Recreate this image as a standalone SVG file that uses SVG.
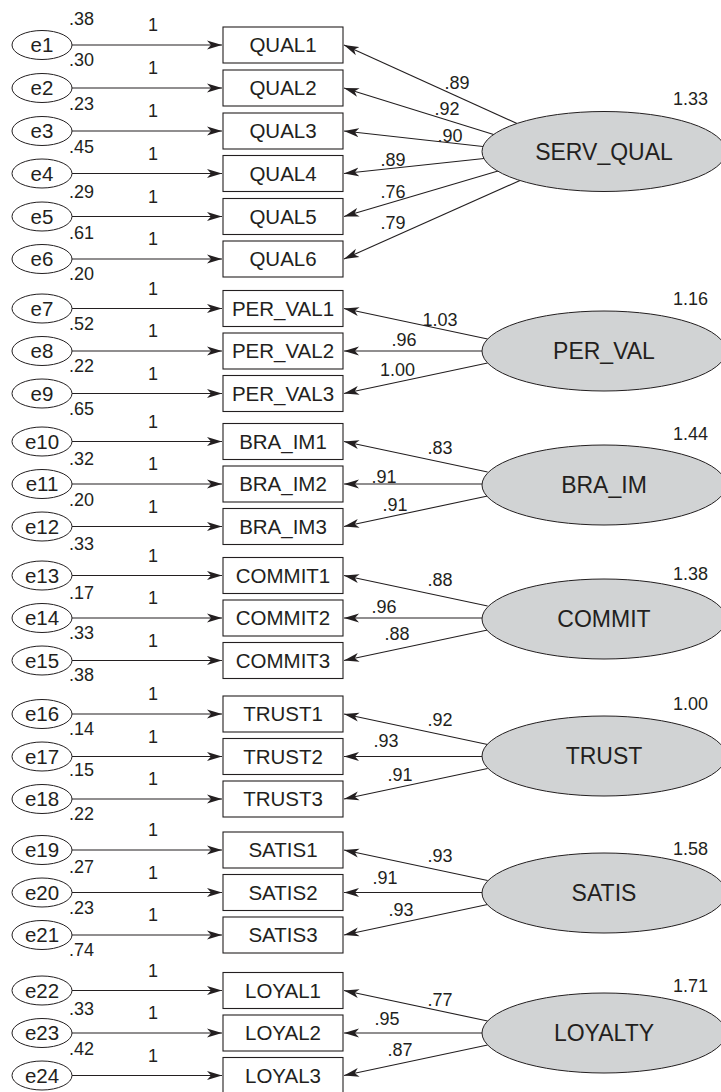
<svg xmlns="http://www.w3.org/2000/svg" width="721" height="1092" viewBox="0 0 721 1092">
<style>
text{font-family:"Liberation Sans",Arial,sans-serif;fill:#231f20}
.lab{font-size:20.5px;text-anchor:middle}
.lat{font-size:23px;text-anchor:middle}
.num{font-size:18px}
.mid{text-anchor:middle}
.end{text-anchor:end}
.err{fill:#fff;stroke:#231f20;stroke-width:1}
.box{fill:#fff;stroke:#231f20;stroke-width:1.1}
.lv{fill:#d1d3d4;stroke:#231f20;stroke-width:1}
.c line{stroke:#231f20;stroke-width:1.1;marker-end:url(#ah)}
</style>
<defs>
<marker id="ah" markerUnits="userSpaceOnUse" markerWidth="16" markerHeight="10" refX="15" refY="5" orient="auto" viewBox="0 0 16 10"><path d="M0,0.5 L15,5 L0,9.5 L4,5 Z" fill="#231f20"/></marker>
</defs>
<g id="connectors" class="c">
<line x1="72" y1="45" x2="222" y2="45"/>
<line x1="72" y1="88" x2="222" y2="88"/>
<line x1="72" y1="131" x2="222" y2="131"/>
<line x1="72" y1="173.5" x2="222" y2="173.5"/>
<line x1="72" y1="216.5" x2="222" y2="216.5"/>
<line x1="72" y1="259" x2="222" y2="259"/>
<line x1="72" y1="308.5" x2="222" y2="308.5"/>
<line x1="72" y1="351" x2="222" y2="351"/>
<line x1="72" y1="393.5" x2="222" y2="393.5"/>
<line x1="72" y1="441.5" x2="222" y2="441.5"/>
<line x1="72" y1="484" x2="222" y2="484"/>
<line x1="72" y1="526.5" x2="222" y2="526.5"/>
<line x1="72" y1="575.5" x2="222" y2="575.5"/>
<line x1="72" y1="618" x2="222" y2="618"/>
<line x1="72" y1="660.5" x2="222" y2="660.5"/>
<line x1="72" y1="714" x2="222" y2="714"/>
<line x1="72" y1="756.5" x2="222" y2="756.5"/>
<line x1="72" y1="799" x2="222" y2="799"/>
<line x1="72" y1="850" x2="222" y2="850"/>
<line x1="72" y1="892.5" x2="222" y2="892.5"/>
<line x1="72" y1="935" x2="222" y2="935"/>
<line x1="72" y1="990.5" x2="222" y2="990.5"/>
<line x1="72" y1="1033" x2="222" y2="1033"/>
<line x1="72" y1="1075.5" x2="222" y2="1075.5"/>
<line x1="517" y1="123.5" x2="344" y2="45"/>
<line x1="493.6" y1="134.5" x2="344" y2="88"/>
<line x1="483" y1="146.5" x2="344" y2="131"/>
<line x1="484" y1="158.5" x2="344" y2="173.5"/>
<line x1="498" y1="171" x2="344" y2="216.5"/>
<line x1="520" y1="180.5" x2="344" y2="259"/>
<line x1="487.6" y1="339" x2="344" y2="308.5"/>
<line x1="482" y1="351" x2="344" y2="351"/>
<line x1="487.6" y1="363" x2="344" y2="393.5"/>
<line x1="487.6" y1="472" x2="344" y2="441.5"/>
<line x1="482" y1="484" x2="344" y2="484"/>
<line x1="487.6" y1="496" x2="344" y2="526.5"/>
<line x1="487.6" y1="606" x2="344" y2="575.5"/>
<line x1="482" y1="618" x2="344" y2="618"/>
<line x1="487.6" y1="630" x2="344" y2="660.5"/>
<line x1="487.6" y1="744.5" x2="344" y2="714"/>
<line x1="482" y1="756.5" x2="344" y2="756.5"/>
<line x1="487.6" y1="768.5" x2="344" y2="799"/>
<line x1="487.6" y1="880.5" x2="344" y2="850"/>
<line x1="482" y1="892.5" x2="344" y2="892.5"/>
<line x1="487.6" y1="904.5" x2="344" y2="935"/>
<line x1="487.6" y1="1021" x2="344" y2="990.5"/>
<line x1="482" y1="1033" x2="344" y2="1033"/>
<line x1="487.6" y1="1045" x2="344" y2="1075.5"/>
</g>
<g id="path-labels" class="num">
<text class="mid" x="153" y="31">1</text>
<text class="mid" x="153" y="74">1</text>
<text class="mid" x="153" y="117">1</text>
<text class="mid" x="153" y="159.5">1</text>
<text class="mid" x="153" y="202.5">1</text>
<text class="mid" x="153" y="245">1</text>
<text class="mid" x="153" y="294.5">1</text>
<text class="mid" x="153" y="337">1</text>
<text class="mid" x="153" y="379.5">1</text>
<text class="mid" x="153" y="427.5">1</text>
<text class="mid" x="153" y="470">1</text>
<text class="mid" x="153" y="512.5">1</text>
<text class="mid" x="153" y="561.5">1</text>
<text class="mid" x="153" y="604">1</text>
<text class="mid" x="153" y="646.5">1</text>
<text class="mid" x="153" y="700">1</text>
<text class="mid" x="153" y="742.5">1</text>
<text class="mid" x="153" y="785">1</text>
<text class="mid" x="153" y="836">1</text>
<text class="mid" x="153" y="878.5">1</text>
<text class="mid" x="153" y="921">1</text>
<text class="mid" x="153" y="976.5">1</text>
<text class="mid" x="153" y="1019">1</text>
<text class="mid" x="153" y="1061.5">1</text>
<text class="mid" x="457" y="89.4">.89</text>
<text class="mid" x="447" y="115.4">.92</text>
<text class="mid" x="450" y="142.4">.90</text>
<text class="mid" x="393" y="166.4">.89</text>
<text class="mid" x="393" y="198.4">.76</text>
<text class="mid" x="393" y="229.4">.79</text>
<text class="mid" x="440" y="325.7">1.03</text>
<text class="mid" x="404" y="345.7">.96</text>
<text class="mid" x="397.5" y="375.7">1.00</text>
<text class="mid" x="440" y="453.7">.83</text>
<text class="mid" x="384" y="483.1">.91</text>
<text class="mid" x="395" y="511.4">.91</text>
<text class="mid" x="440" y="586.4">.88</text>
<text class="mid" x="384" y="613.1">.96</text>
<text class="mid" x="397" y="640.4">.88</text>
<text class="mid" x="440" y="725.7">.92</text>
<text class="mid" x="386" y="747.1">.93</text>
<text class="mid" x="400" y="781.4">.91</text>
<text class="mid" x="440" y="862.4">.93</text>
<text class="mid" x="385" y="884.1">.91</text>
<text class="mid" x="401" y="916.4">.93</text>
<text class="mid" x="440" y="1006.4">.77</text>
<text class="mid" x="387" y="1024.7">.95</text>
<text class="mid" x="400" y="1055.7">.87</text>
</g>
<g id="e1"><ellipse class="err" cx="42" cy="45" rx="30" ry="14.5"/><text class="lab" x="42" y="52.3">e1</text><text class="num" x="69" y="24.7">.38</text></g>
<g id="e2"><ellipse class="err" cx="42" cy="88" rx="30" ry="14.5"/><text class="lab" x="42" y="95.3">e2</text><text class="num" x="69" y="66.4">.30</text></g>
<g id="e3"><ellipse class="err" cx="42" cy="131" rx="30" ry="14.5"/><text class="lab" x="42" y="138.3">e3</text><text class="num" x="69" y="109.7">.23</text></g>
<g id="e4"><ellipse class="err" cx="42" cy="173.5" rx="30" ry="14.5"/><text class="lab" x="42" y="180.8">e4</text><text class="num" x="69" y="153.4">.45</text></g>
<g id="e5"><ellipse class="err" cx="42" cy="216.5" rx="30" ry="14.5"/><text class="lab" x="42" y="223.8">e5</text><text class="num" x="69" y="198.1">.29</text></g>
<g id="e6"><ellipse class="err" cx="42" cy="259" rx="30" ry="14.5"/><text class="lab" x="42" y="266.3">e6</text><text class="num" x="69" y="239.1">.61</text></g>
<g id="e7"><ellipse class="err" cx="42" cy="308.5" rx="30" ry="14.5"/><text class="lab" x="42" y="315.8">e7</text><text class="num" x="69" y="279.7">.20</text></g>
<g id="e8"><ellipse class="err" cx="42" cy="351" rx="30" ry="14.5"/><text class="lab" x="42" y="358.3">e8</text><text class="num" x="69" y="329.7">.52</text></g>
<g id="e9"><ellipse class="err" cx="42" cy="393.5" rx="30" ry="14.5"/><text class="lab" x="42" y="400.8">e9</text><text class="num" x="69" y="372.4">.22</text></g>
<g id="e10"><ellipse class="err" cx="42" cy="441.5" rx="30" ry="14.5"/><text class="lab" x="42" y="448.8">e10</text><text class="num" x="69" y="415.4">.65</text></g>
<g id="e11"><ellipse class="err" cx="42" cy="484" rx="30" ry="14.5"/><text class="lab" x="42" y="491.3">e11</text><text class="num" x="69" y="464.7">.32</text></g>
<g id="e12"><ellipse class="err" cx="42" cy="526.5" rx="30" ry="14.5"/><text class="lab" x="42" y="533.8">e12</text><text class="num" x="69" y="506.4">.20</text></g>
<g id="e13"><ellipse class="err" cx="42" cy="575.5" rx="30" ry="14.5"/><text class="lab" x="42" y="582.8">e13</text><text class="num" x="69" y="549.9">.33</text></g>
<g id="e14"><ellipse class="err" cx="42" cy="618" rx="30" ry="14.5"/><text class="lab" x="42" y="625.3">e14</text><text class="num" x="69" y="599.1">.17</text></g>
<g id="e15"><ellipse class="err" cx="42" cy="660.5" rx="30" ry="14.5"/><text class="lab" x="42" y="667.8">e15</text><text class="num" x="69" y="639.1">.33</text></g>
<g id="e16"><ellipse class="err" cx="42" cy="714" rx="30" ry="14.5"/><text class="lab" x="42" y="721.3">e16</text><text class="num" x="69" y="681.4">.38</text></g>
<g id="e17"><ellipse class="err" cx="42" cy="756.5" rx="30" ry="14.5"/><text class="lab" x="42" y="763.8">e17</text><text class="num" x="69" y="734.7">.14</text></g>
<g id="e18"><ellipse class="err" cx="42" cy="799" rx="30" ry="14.5"/><text class="lab" x="42" y="806.3">e18</text><text class="num" x="69" y="775.7">.15</text></g>
<g id="e19"><ellipse class="err" cx="42" cy="850" rx="30" ry="14.5"/><text class="lab" x="42" y="857.3">e19</text><text class="num" x="69" y="819.7">.22</text></g>
<g id="e20"><ellipse class="err" cx="42" cy="892.5" rx="30" ry="14.5"/><text class="lab" x="42" y="899.8">e20</text><text class="num" x="69" y="873.1">.27</text></g>
<g id="e21"><ellipse class="err" cx="42" cy="935" rx="30" ry="14.5"/><text class="lab" x="42" y="942.3">e21</text><text class="num" x="69" y="913.7">.23</text></g>
<g id="e22"><ellipse class="err" cx="42" cy="990.5" rx="30" ry="14.5"/><text class="lab" x="42" y="997.8">e22</text><text class="num" x="69" y="956.4">.74</text></g>
<g id="e23"><ellipse class="err" cx="42" cy="1033" rx="30" ry="14.5"/><text class="lab" x="42" y="1040.3">e23</text><text class="num" x="69" y="1014.7">.33</text></g>
<g id="e24"><ellipse class="err" cx="42" cy="1075.5" rx="30" ry="14.5"/><text class="lab" x="42" y="1082.8">e24</text><text class="num" x="69" y="1054.7">.42</text></g>
<g id="QUAL1"><rect class="box" x="223" y="27" width="120" height="36"/><text class="lab" x="283" y="52.3">QUAL1</text></g>
<g id="QUAL2"><rect class="box" x="223" y="70" width="120" height="36"/><text class="lab" x="283" y="95.3">QUAL2</text></g>
<g id="QUAL3"><rect class="box" x="223" y="113" width="120" height="36"/><text class="lab" x="283" y="138.3">QUAL3</text></g>
<g id="QUAL4"><rect class="box" x="223" y="155.5" width="120" height="36"/><text class="lab" x="283" y="180.8">QUAL4</text></g>
<g id="QUAL5"><rect class="box" x="223" y="198.5" width="120" height="36"/><text class="lab" x="283" y="223.8">QUAL5</text></g>
<g id="QUAL6"><rect class="box" x="223" y="241" width="120" height="36"/><text class="lab" x="283" y="266.3">QUAL6</text></g>
<g id="PER_VAL1"><rect class="box" x="223" y="290.5" width="120" height="36"/><text class="lab" x="283" y="315.8">PER_VAL1</text></g>
<g id="PER_VAL2"><rect class="box" x="223" y="333" width="120" height="36"/><text class="lab" x="283" y="358.3">PER_VAL2</text></g>
<g id="PER_VAL3"><rect class="box" x="223" y="375.5" width="120" height="36"/><text class="lab" x="283" y="400.8">PER_VAL3</text></g>
<g id="BRA_IM1"><rect class="box" x="223" y="423.5" width="120" height="36"/><text class="lab" x="283" y="448.8">BRA_IM1</text></g>
<g id="BRA_IM2"><rect class="box" x="223" y="466" width="120" height="36"/><text class="lab" x="283" y="491.3">BRA_IM2</text></g>
<g id="BRA_IM3"><rect class="box" x="223" y="508.5" width="120" height="36"/><text class="lab" x="283" y="533.8">BRA_IM3</text></g>
<g id="COMMIT1"><rect class="box" x="223" y="557.5" width="120" height="36"/><text class="lab" x="283" y="582.8">COMMIT1</text></g>
<g id="COMMIT2"><rect class="box" x="223" y="600" width="120" height="36"/><text class="lab" x="283" y="625.3">COMMIT2</text></g>
<g id="COMMIT3"><rect class="box" x="223" y="642.5" width="120" height="36"/><text class="lab" x="283" y="667.8">COMMIT3</text></g>
<g id="TRUST1"><rect class="box" x="223" y="696" width="120" height="36"/><text class="lab" x="283" y="721.3">TRUST1</text></g>
<g id="TRUST2"><rect class="box" x="223" y="738.5" width="120" height="36"/><text class="lab" x="283" y="763.8">TRUST2</text></g>
<g id="TRUST3"><rect class="box" x="223" y="781" width="120" height="36"/><text class="lab" x="283" y="806.3">TRUST3</text></g>
<g id="SATIS1"><rect class="box" x="223" y="832" width="120" height="36"/><text class="lab" x="283" y="857.3">SATIS1</text></g>
<g id="SATIS2"><rect class="box" x="223" y="874.5" width="120" height="36"/><text class="lab" x="283" y="899.8">SATIS2</text></g>
<g id="SATIS3"><rect class="box" x="223" y="917" width="120" height="36"/><text class="lab" x="283" y="942.3">SATIS3</text></g>
<g id="LOYAL1"><rect class="box" x="223" y="972.5" width="120" height="36"/><text class="lab" x="283" y="997.8">LOYAL1</text></g>
<g id="LOYAL2"><rect class="box" x="223" y="1015" width="120" height="36"/><text class="lab" x="283" y="1040.3">LOYAL2</text></g>
<g id="LOYAL3"><rect class="box" x="223" y="1057.5" width="120" height="36"/><text class="lab" x="283" y="1082.8">LOYAL3</text></g>
<g id="SERV_QUAL"><ellipse class="lv" cx="604" cy="151.5" rx="122" ry="40"/><text class="lat" x="604" y="159.7">SERV_QUAL</text><text class="num end" x="708" y="105.4">1.33</text></g>
<g id="PER_VAL"><ellipse class="lv" cx="604" cy="351" rx="122" ry="40"/><text class="lat" x="604" y="359.2">PER_VAL</text><text class="num end" x="708" y="304.7">1.16</text></g>
<g id="BRA_IM"><ellipse class="lv" cx="604" cy="485" rx="122" ry="40"/><text class="lat" x="604" y="493.2">BRA_IM</text><text class="num end" x="708" y="439.7">1.44</text></g>
<g id="COMMIT"><ellipse class="lv" cx="604" cy="619" rx="122" ry="40"/><text class="lat" x="604" y="627.2">COMMIT</text><text class="num end" x="708" y="579.7">1.38</text></g>
<g id="TRUST"><ellipse class="lv" cx="604" cy="756" rx="122" ry="40"/><text class="lat" x="604" y="764.2">TRUST</text><text class="num end" x="708" y="709.7">1.00</text></g>
<g id="SATIS"><ellipse class="lv" cx="604" cy="893" rx="122" ry="40"/><text class="lat" x="604" y="901.2">SATIS</text><text class="num end" x="708" y="854.7">1.58</text></g>
<g id="LOYALTY"><ellipse class="lv" cx="604" cy="1033" rx="122" ry="40"/><text class="lat" x="604" y="1041.2">LOYALTY</text><text class="num end" x="708" y="992.4">1.71</text></g>
</svg>
